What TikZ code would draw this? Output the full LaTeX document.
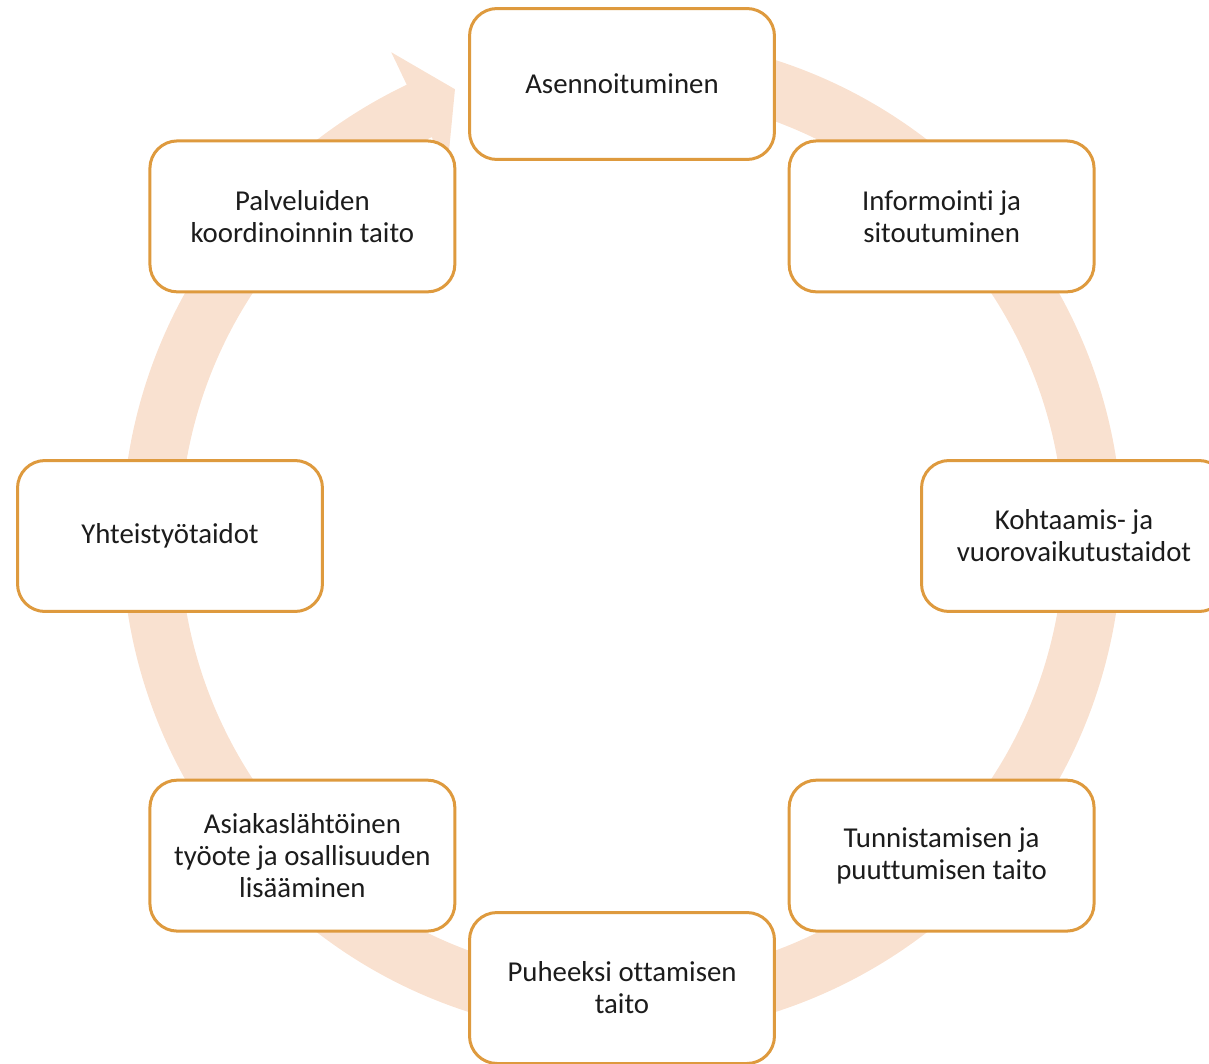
\documentclass[tikz,border=0pt]{standalone}
\usepackage{fontspec}
\setmainfont{Carlito}[Ligatures=NoCommon]
\definecolor{boxc}{HTML}{DE9A3E}
\definecolor{ringc}{HTML}{F9E1D0}
\definecolor{txtc}{HTML}{1C1C1C}
\begin{document}
\begin{tikzpicture}[x=0.02cm,y=0.02cm,
  stepbox/.style={draw=boxc, line width=0.06cm, fill=white, rounded corners=0.55cm,
    minimum width=6.1cm, minimum height=3.02cm, align=center, text=txtc,
    font=\fontsize{16.4pt}{18.2pt}\selectfont, inner sep=0pt}]
\clip (-622,-527) rectangle (587,536);
% ring arrow
\fill[ringc] (80:500) arc[start angle=80, end angle=-244.5, radius=500]
  -- (-244.5:536) -- (-249.5:477) -- (-244.5:406) -- (-244.5:442)
  arc[start angle=-244.5, end angle=80, radius=442] -- cycle;
% boxes
\node[stepbox] (n1) at (90:452) {Asennoituminen};
\node[stepbox] (n2) at (45:452) {Informointi ja\\sitoutuminen};
\node[stepbox] (n3) at (0:452) {Kohtaamis- ja\\vuorovaikutustaidot};
\node[stepbox] (n4) at (-45:452) {Tunnistamisen ja\\puuttumisen taito};
\node[stepbox] (n5) at (-90:452) {Puheeksi ottamisen\\taito};
\node[stepbox] (n6) at (-135:452) {Asiakaslähtöinen\\työote ja osallisuuden\\lisääminen};
\node[stepbox] (n7) at (180:452) {Yhteistyötaidot};
\node[stepbox] (n8) at (135:452) {Palveluiden\\koordinoinnin taito};
\end{tikzpicture}
\end{document}
